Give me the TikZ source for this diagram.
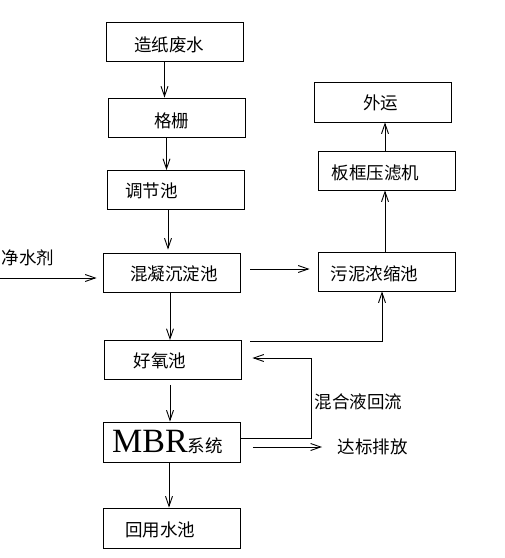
\documentclass[tikz,border=0pt]{standalone}
\usepackage{fontspec}
\setmainfont{Liberation Serif}
\newfontfamily\cjk{Noto Sans CJK SC}
\usetikzlibrary{arrows.meta}

\begin{document}
\begin{tikzpicture}[x=1pt,y=-1pt,
  box/.style={draw,line width=0.9pt,minimum width=137pt,minimum height=39pt,inner sep=0pt},
  txt/.style={font=\cjk\fontsize{17.5}{20}\selectfont},
  flow/.style={line width=0.9pt,-{Straight Barb[length=10pt,width=7pt]}}]
\useasboundingbox (0,0) rectangle (505,558);
% main line
\node[box,label={[txt,xshift=-5.5,yshift=-3]center:造纸废水}] (zzfs) at (174.5,41.5) {};
\node[box,label={[txt,xshift=-5,yshift=-3]center:格栅}] (gs) at (176.5,117.5) {};
\node[box,label={[txt,xshift=-24,yshift=-1]center:调节池}] (tjc) at (175.5,190) {};
\node[box,label={[txt,xshift=2.5,yshift=-1]center:混凝沉淀池}] (hn) at (171.5,272.5) {};
\node[box,label={[txt,xshift=-12.5,yshift=-1]center:好氧池}] (hy) at (172.5,360) {};
\node[box,minimum height=40pt,label={[txt,xshift=-4.5]center:{\fontsize{34}{36}\selectfont\rmfamily MBR}系统}] (mbr) at (172,442) {};
\node[box,minimum height=40pt,label={[txt,xshift=-12,yshift=-2]center:回用水池}] (hys) at (172,528) {};
% sludge line
\node[box,minimum height=40pt,label={[txt,xshift=-2.5,yshift=-1]center:外运}] (wy) at (383,102) {};
\node[box,label={[txt,xshift=-11,yshift=-2]center:板框压滤机}] (bk) at (386.5,170.5) {};
\node[box,label={[txt,xshift=-12,yshift=-2]center:污泥浓缩池}] (wn) at (386.5,271.5) {};
% free texts
\node[txt] (jsj) at (28,258) {净水剂};
\node[txt,anchor=west] (hhy) at (311,402) {混合液回流};
\node[txt,anchor=west] (dbpf) at (334,447) {达标排放};
\coordinate (in) at (0,278);

\draw[flow] ([xshift=-10]zzfs.south) -- ([xshift=-10]zzfs.south |- gs.north);
\draw[flow] ([xshift=-10]gs.south) -- ([xshift=-10]gs.south |- tjc.north);
\draw[flow,shorten >=3] ([xshift=-7.5]tjc.south) -- ([xshift=-7.5]tjc.south |- hn.north);
\draw[flow] ([xshift=-1.5]hn.south) -- ([xshift=-1.5]hn.south |- hy.north);
\draw[flow,shorten <=5] ([xshift=-2.5]hy.south) -- ([xshift=-2.5]hy.south |- mbr.north);
\draw[flow] ([xshift=-3]mbr.south) -- ([xshift=-3]mbr.south |- hys.north);
\draw[flow,shorten >=6] (in) -- (in -| hn.west);
\draw[flow,shorten <=10,shorten >=8] ([yshift=3.5]hn.east) -- ([yshift=3.5]hn.east -| wn.west);
\draw[flow] ([xshift=9,yshift=-1]hy.north east) -| ([xshift=-4.5]wn.south);
\draw[flow] ([xshift=-1.5]wn.north) -- ([xshift=-1.5]wn.north |- bk.south);
\draw[flow] ([xshift=-1.5]bk.north) -- ([xshift=-1.5]bk.north |- wy.south);
\draw[flow,shorten >=11] ([yshift=4]mbr.east) -- ++(70,0) |- ([yshift=2]hy.east);
\draw[flow,shorten <=12,shorten >=12] ([yshift=-5]mbr.east) -- ([yshift=-5]mbr.east -| dbpf.west);
\end{tikzpicture}
\end{document}
